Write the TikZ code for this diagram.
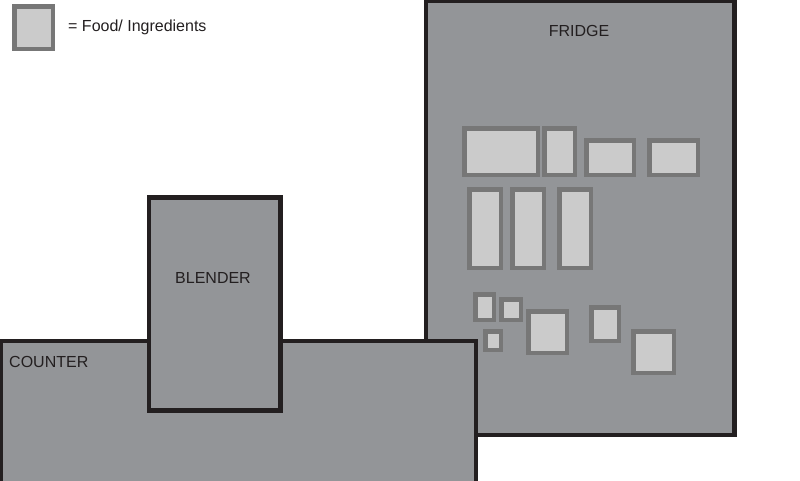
\documentclass[tikz,border=0pt]{standalone}
\usepackage{fontspec}
\setmainfont{Liberation Sans}
\usepackage{tikz}
\usepackage{xcolor}
\usetikzlibrary{positioning}
\definecolor{outline}{HTML}{231F20}
\definecolor{unit}{HTML}{939598}
\definecolor{foodline}{HTML}{777777}
\definecolor{foodfill}{HTML}{CBCBCB}
\tikzset{
    unitbox/.style={draw=outline, fill=unit, line width=4.5pt},
    food/.style={draw=foodline, fill=foodfill, line width=4.5pt, rectangle, inner sep=0pt},
    label text/.style={inner sep=0pt, font=\fontsize{16}{19}\selectfont, text=outline}
}
\newcommand{\food}[4]{
    \node[food, minimum width=#3, minimum height=#4] (#1) at (#2) {};
}
\newcommand{\unitblock}[3]{
    \draw[unitbox] (#2) rectangle (#3);
    \coordinate (#1-nw) at (#2);
    \coordinate (#1-se) at (#3);
}

\begin{document}
\begin{tikzpicture}[x=1pt, y=-1pt]
                    \useasboundingbox (0, 0) rectangle (800, 480);
                    \clip (0, 0) rectangle (800, 480);
                    \unitblock{fridge}{426, 1}{734.5, 435}
                    \unitblock{counter}{0.5, 341}{476, 490}
                    \unitblock{blender}{149, 197.5}{280.5, 410.5}
                    \node[label text] (tfridge) at (579, 30.5) {FRIDGE};
                    \node[label text] (tblender) at (213, 278) {BLENDER};
                    \node[label text, anchor=west] (tcounter) at (9, 362) {COUNTER};
                    \food{legend}{33.5, 27.5}{38.5pt}{42.5pt}
                    \node[label text, anchor=base west] (tlegend) at (68, 31) {= Food/ Ingredients};
                    \food{meat}{501, 151.5}{73.5pt}{46.5pt}
                    \food{cheese}{559.5, 151.5}{30.5pt}{46.5pt}
                    \food{butter}{610, 157.5}{47.5pt}{34.5pt}
                    \food{eggs}{673.5, 157.5}{48.5pt}{34.5pt}
                    \food{milk}{485, 228.5}{31.5pt}{78.5pt}
                    \food{juice}{528, 228.5}{31.5pt}{78.5pt}
                    \food{water}{575, 228.5}{31.5pt}{78.5pt}
                    \food{jama}{484.5, 307}{18.5pt}{25.5pt}
                    \food{jamb}{511, 309.5}{19.5pt}{20.5pt}
                    \food{sauce}{493, 340.5}{15.5pt}{18.5pt}
                    \food{fruit}{547.5, 332}{38.5pt}{41.5pt}
                    \food{yogurt}{605, 324}{27.5pt}{33.5pt}
                    \food{veg}{653.5, 352}{40.5pt}{41.5pt}
                \end{tikzpicture}
\end{document}
